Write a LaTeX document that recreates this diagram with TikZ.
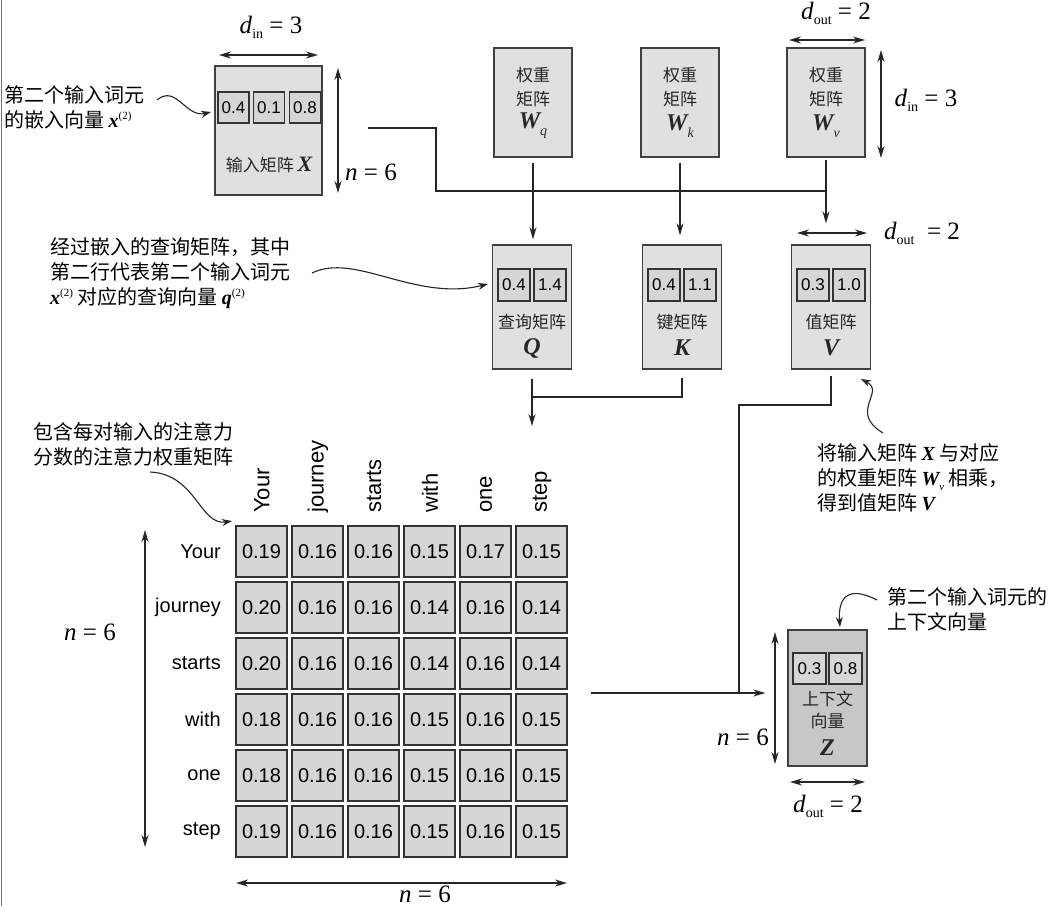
\documentclass[tikz,border=0pt]{standalone}
\usepackage{fontspec}
\setmainfont{Noto Sans CJK SC}
\newfontfamily\ar{Liberation Sans}
\newfontfamily\tms{Liberation Serif}
\usetikzlibrary{arrows.meta}
\newcommand\fsz[2]{\fontsize{#1}{#2}\selectfont}
\newcommand\myit[1]{{\tms\itshape #1}}
\newcommand\mybi[1]{{\tms\bfseries\itshape #1}}
\newcommand\supp[1]{\raisebox{8pt}{\tms\fsz{11}{11}#1}}
\tikzset{
 box/.style={draw=black!75, fill=black!12, line width=1.4pt, inner sep=0},
 zbox/.style={box, fill=black!22},
 cell/.style={draw=black!80, fill=black!16, line width=1.3pt, minimum width=31pt, minimum height=31pt, inner sep=0, font=\ar\fsz{17}{17}},
 acell/.style={draw=black!80, fill=black!16, line width=1.3pt, minimum width=51pt, minimum height=51pt, inner sep=0, font=\ar\fsz{20}{20}},
 conn/.style={line width=1.5pt, draw=black!85},
 arr/.style={conn, -{Stealth[length=12pt,width=7pt]}},
 dim/.style={conn, {Stealth[length=12pt,width=7pt]}-{Stealth[length=12pt,width=7pt]}},
 ann/.style={font=\fsz{20}{25}, align=left, inner sep=0, anchor=west},
 blab/.style={font=\fsz{17}{22}, inner sep=0, text=black!85},
 mlab/.style={font=\tms\fsz{25}{28}, inner sep=0},
 rowlab/.style={font=\ar\fsz{20}{20}, anchor=east, inner sep=0},
 collab/.style={font=\ar\fsz{22}{22}, anchor=west, rotate=90, inner sep=0},
 curve/.style={line width=1.1pt, draw=black!85, -{Stealth[length=10pt,width=7pt]}},
}
\begin{document}
\begin{tikzpicture}[x=1pt,y=-1pt]
\useasboundingbox (0,0) rectangle (1053,906);
\fill[white] (0,0) rectangle (1053,906);
\draw[black!55, line width=1.5pt] (1.5,0) -- (1.5,906);

% ---------- input matrix X ----------
\node[box, minimum width=107pt, minimum height=129pt] (X) at (268.5,130.5) {};
\node[cell] (x1) at (233.5,107.5) {0.4};
\node[cell] (x2) at (269,107.5) {0.1};
\node[cell] (x3) at (305,107.5) {0.8};
\node[blab] (Xl) at (269,165) {输入矩阵 {\fsz{22}{22}\mybi{X}}};
\draw[dim] (219,55) -- (318,55);
\node[mlab] (dinX) at (271,27) {\textit{d}\raisebox{-5pt}{\fsz{14}{14}in} = 3};
\draw[dim] (338,68) -- (338,193);
\node[mlab] (nX) at (371,172) {\textit{n} = 6};
\node[ann] (Xann) at (4,107.5) {第二个输入词元\\的嵌入向量 \mybi{x}\supp{(2)}};
\coordinate (xa0) at (157,100);
\coordinate (xa1) at (211,112);
\draw[curve] (xa0) .. controls (176,84) and (186,118) .. (xa1);

% ---------- weight matrices ----------
\foreach \nm/\cx/\s in {Wq/533/q, Wk/680/k, Wv/826/v} {
  \node[box, minimum width=78pt, minimum height=109pt] (\nm) at (\cx,102.5) {};
  \node[blab] (\nm-a) at (\cx,75) {权重};
  \node[blab] (\nm-b) at (\cx,99) {矩阵};
  \node[font=\fsz{24}{24}, inner sep=0, text=black!85] (\nm-c) at (\cx,126) {\mybi{W}\raisebox{-7pt}{\myit{\fsz{14}{14}\s}}};
}
\draw[dim] (789,40) -- (865,40);
\node[mlab] (doutW) at (836,13) {\textit{d}\raisebox{-5pt}{\fsz{14}{14}out} = 2};
\draw[dim] (881,50) -- (881,158);
\node[mlab] (dinW) at (926,100) {\textit{d}\raisebox{-5pt}{\fsz{14}{14}in} = 3};

% ---------- Q K V ----------
\foreach \nm/\cx/\la/\lb/\txt/\sym in {Q/532/0.4/1.4/查询矩阵/Q, K/682/0.4/1.1/键矩阵/K, V/831/0.3/1.0/值矩阵/V} {
  \node[box, minimum width=79pt, minimum height=124pt] (\nm) at (\cx,307) {};
  \node[cell, minimum width=32pt, minimum height=32pt] (\nm-1) at (\cx-18,285) {\la};
  \node[cell, minimum width=32pt, minimum height=32pt] (\nm-2) at (\cx+18,285) {\lb};
  \node[blab] (\nm-t) at (\cx,322) {\txt};
  \node[font=\fsz{24}{24}, inner sep=0, text=black!85] (\nm-s) at (\cx,348) {\mybi{\sym}};
}
\draw[dim] (797,233) -- (867,233);
\node[mlab] (doutV) at (922,233) {\textit{d}\raisebox{-5pt}{\fsz{14}{14}out} \ = 2};

% connectors from X and W to Q K V
\coordinate (xo) at (368,128);
\coordinate (bus) at (436,191);
\draw[conn] (xo) -| (bus) -- (bus -| Wv.south);
\draw[arr, shorten >=5pt] ([yshift=-5pt]Wq.south) -- (Wq.south |- Q.north);
\draw[arr, shorten >=9pt] ([yshift=-5pt]Wk.south) -- (Wk.south |- K.north);
\draw[arr, shorten >=21pt] ([yshift=-2pt]Wv.south) -- (Wv.south |- V.north);

\node[ann] (Qann) at (50,273) {经过嵌入的查询矩阵，其中\\第二行代表第二个输入词元\\\mybi{x}\supp{(2)} 对应的查询向量 \mybi{q}\supp{(2)}};
\coordinate (qa0) at (312,273);
\coordinate (qa1) at (488,284);
\draw[curve] (qa0) .. controls (355,252) and (415,302) .. (qa1);

% Q,K merge
\coordinate (qkj) at (532,397);
\coordinate (qkend) at (532,426);
\draw[arr] ([yshift=-9pt]Q.south) -- (qkend);
\draw[conn] ([yshift=-8pt]K.south) |- (qkj);

% V to Z
\coordinate (vbend) at (739,405);
\coordinate (vz) at (739,693);
\draw[conn] ([yshift=-6pt]V.south) |- (vbend) -- (vz);

\node[ann] (Vann) at (817,478) {将输入矩阵 \mybi{X} 与对应\\的权重矩阵 \mybi{W}\raisebox{-5pt}{\myit{\fsz{11}{11}v}} 相乘，\\得到值矩阵 \mybi{V}};
\coordinate (va0) at (883,433);
\coordinate (va1) at (861,379);
\draw[curve] (va0) .. controls (848,412) and (886,392) .. (va1);

% ---------- attention matrix ----------
\foreach \lab/\vals [count=\j from 0] in {
  Your/{0.19,0.16,0.16,0.15,0.17,0.15},
  journey/{0.20,0.16,0.16,0.14,0.16,0.14},
  starts/{0.20,0.16,0.16,0.14,0.16,0.14},
  with/{0.18,0.16,0.16,0.15,0.16,0.15},
  one/{0.18,0.16,0.16,0.15,0.16,0.15},
  step/{0.19,0.16,0.16,0.15,0.16,0.15}} {
  \node[rowlab] (r\j) at (221,551.5+56*\j) {\lab};
  \foreach \v [count=\i from 0] in \vals {
    \node[acell] (a\j\i) at (261.5+56*\i,551.5+56*\j) {\v};
  }
}
\foreach \c [count=\i from 0] in {Your,journey,starts,with,one,step} {
  \node[collab] (c\i) at (262+56*\i,513) {\c};
}
\draw[dim] (145,530) -- (145,847);
\node[mlab] (nA1) at (90,632) {\textit{n} = 6};
\draw[dim] (236,883) -- (567,883);
\node[mlab] (nA2) at (425,894) {\textit{n} = 6};

\node[ann] (Aann) at (33,444.5) {包含每对输入的注意力\\分数的注意力权重矩阵};
\coordinate (aa0) at (150,472);
\coordinate (aa1) at (232,521);
\draw[curve] (aa0) .. controls (196,474) and (200,526) .. (aa1);

% ---------- context Z ----------
\node[zbox, minimum width=79pt, minimum height=136pt] (Z) at (827.5,698) {};
\node[cell, minimum width=33pt] (z1) at (809.5,668.5) {0.3};
\node[cell, minimum width=33pt] (z2) at (845.5,668.5) {0.8};
\node[blab] (Zt1) at (827.5,699) {上下文};
\node[blab] (Zt2) at (827.5,721) {向量};
\node[font=\fsz{24}{24}, inner sep=0, text=black!85] (Zs) at (827.5,748) {\mybi{Z}};
\coordinate (mo) at (591,693);
\draw[arr] (mo) -- ([xshift=-22pt]Z.west |- vz);
\draw[dim] (775,632) -- (775,764);
\node[mlab] (nZ) at (743,737) {\textit{n} = 6};
\draw[dim] (790,782) -- (865,782);
\node[mlab] (doutZ) at (828,806) {\textit{d}\raisebox{-5pt}{\fsz{14}{14}out} = 2};

\node[ann] (Zann) at (887,609.5) {第二个输入词元的\\上下文向量};
\coordinate (za0) at (877,600);
\coordinate (za1) at (840,627);
\draw[curve] (za0) .. controls (846,584) and (838,600) .. (za1);
\end{tikzpicture}
\end{document}
